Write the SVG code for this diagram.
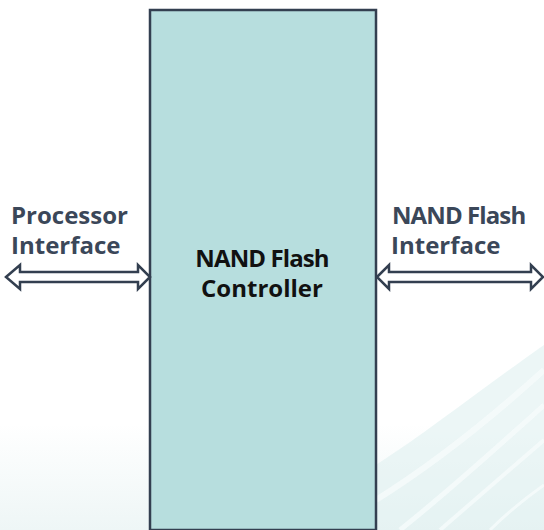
<svg xmlns="http://www.w3.org/2000/svg" width="544" height="530" viewBox="0 0 544 530">
  <defs>
    <linearGradient id="bg" x1="0" y1="0" x2="0" y2="1">
      <stop offset="0" stop-color="#ffffff"/>
      <stop offset="0.8" stop-color="#ffffff"/>
      <stop offset="1" stop-color="#eef6f6"/>
    </linearGradient>
    <style>
      .arrow { fill: #ffffff; stroke: #333f50; stroke-width: 2.5; stroke-linejoin: miter; }
      .side { font-family: "Open Sans", "Liberation Sans", sans-serif; font-weight: bold; font-size: 24px; fill: #3b4759; }
      .main { font-family: "Open Sans", "Liberation Sans", sans-serif; font-weight: bold; font-size: 24px; fill: #111111; text-anchor: middle; }
      .tight { letter-spacing: -0.9px; }
      .swoosh { fill: #dff0f0; opacity: 0.6; }
      .stripe { fill: none; stroke: #f6fbfb; opacity: 0.8; }
    </style>
  </defs>
  <rect x="0" y="0" width="544" height="530" fill="url(#bg)"/>
  <g id="background-swooshes">
    <path class="swoosh" d="M376 465 C430 430 480 390 544 345 L544 530 L376 530 Z"/>
    <path class="stripe" stroke-width="6" d="M376 500 C440 460 500 410 544 370"/>
    <path class="stripe" stroke-width="5" d="M400 530 C450 490 500 445 544 405"/>
    <path class="stripe" stroke-width="4" d="M440 530 C480 495 515 465 544 440"/>
    <path class="stripe" stroke-width="3" d="M490 530 C510 510 530 495 544 485"/>
  </g>
  <g id="controller">
    <rect x="150" y="10" width="226" height="520" fill="#b7dede" stroke="#333f50" stroke-width="2.5"/>
    <text class="main tight" x="262" y="267">NAND Flash</text>
    <text class="main" x="262" y="297">Controller</text>
  </g>
  <g id="processor-label">
    <text class="side" x="11" y="224">Processor</text>
    <text class="side" x="11" y="254">Interface</text>
  </g>
  <g id="nand-label">
    <text class="side tight" x="392" y="224">NAND Flash</text>
    <text class="side" x="391" y="254">Interface</text>
  </g>
  <g id="connectors">
    <path class="arrow" d="M6 277 L20 265 L20 272 L138 272 L138 265 L150 277 L138 289 L138 282 L20 282 L20 289 Z"/>
    <path class="arrow" d="M377 277 L389 265 L389 272 L531 272 L531 265 L543 277 L531 289 L531 282 L389 282 L389 289 Z"/>
  </g>
</svg>
